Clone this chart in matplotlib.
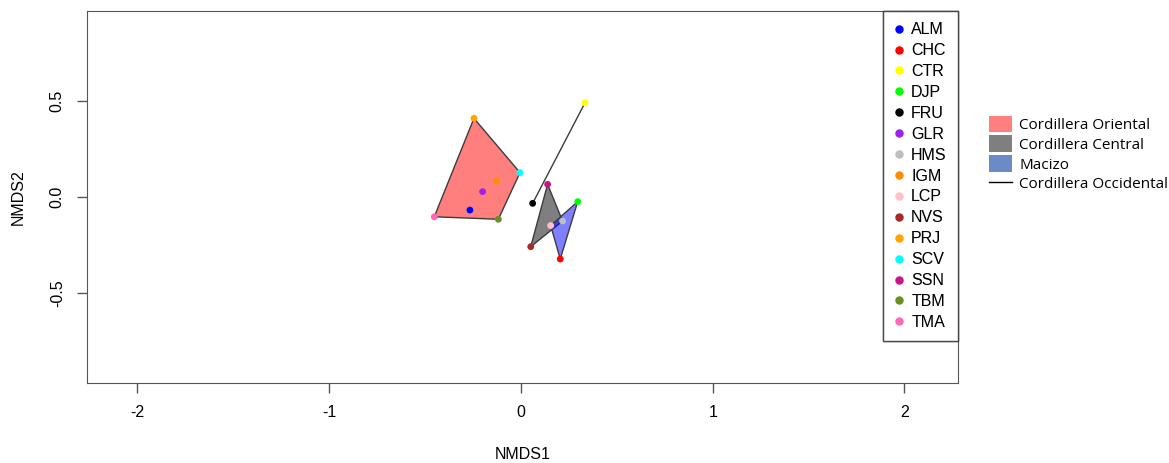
import matplotlib.pyplot as plt
from matplotlib.patches import Polygon, Patch
from matplotlib.lines import Line2D

sites = ["ALM", "CHC", "CTR", "DJP", "FRU", "GLR", "HMS", "IGM",
         "LCP", "NVS", "PRJ", "SCV", "SSN", "TBM", "TMA"]
nmds1 = [-0.266, 0.205, 0.334, 0.296, 0.061, -0.200, 0.217, -0.127,
         0.155, 0.051, -0.245, -0.005, 0.139, -0.118, -0.452]
nmds2 = [-0.068, -0.323, 0.491, -0.024, -0.033, 0.028, -0.125, 0.083,
         -0.149, -0.259, 0.410, 0.127, 0.066, -0.116, -0.103]
site_colors = ["#0000FF", "#FF0000", "#FFFF00", "#00FF00", "#000000", "#A020F0",
               "#BEBEBE", "#FF8C00", "#FFC0CB", "#A52A2A", "#FFA500", "#00FFFF",
               "#C71585", "#6B8E23", "#FF69B4"]

# hull vertices for each region (site names, in drawing order)
oriental = ["PRJ", "SCV", "TBM", "TMA"]
central = ["SSN", "HMS", "NVS"]
macizo = ["DJP", "CHC", "LCP"]
occidental = ["FRU", "CTR"]

groups = ["Cordillera Oriental", "Cordillera Central", "Macizo", "Cordillera Occidental"]
group_fill = ["#FF0000", "#000000", "#0000FF"]
group_legend = ["#FF7F7F", "#7F7F7F", "#6A8BC4"]

xticks = [-2, -1, 0, 1, 2]
yticks = [-0.5, 0.0, 0.5]

plt.rcParams['font.family'] = ['Liberation Sans', 'DejaVu Sans']

fig = plt.figure(figsize=(11.69, 4.63), dpi=100)
ax = fig.add_axes([0.0744, 0.1728, 0.7451, 0.8034])

pos = {s: (x, y) for s, x, y in zip(sites, nmds1, nmds2)}

for names, col in zip([oriental, central, macizo], group_fill):
    pts = [pos[n] for n in names]
    ax.add_patch(Polygon(pts, closed=True, facecolor=col, alpha=0.5, edgecolor='none'))
    ax.add_patch(Polygon(pts, closed=True, facecolor='none', edgecolor='#3c3c3c', lw=1))

ax.plot([pos[n][0] for n in occidental], [pos[n][1] for n in occidental],
        color='#3c3c3c', lw=1)

ax.scatter(nmds1, nmds2, c=site_colors, s=24, zorder=5, edgecolors='none')

ax.set_xlim(-2.263, 2.279)
ax.set_ylim(-0.969, 0.969)
ax.set_xticks(xticks)
ax.set_xticklabels([str(t) for t in xticks])
ax.set_yticks(yticks)
ax.set_yticklabels(["%.1f" % t for t in yticks], rotation=90, va='center')
ax.tick_params(direction='out', length=7, width=1, color='#555555',
               labelsize=11.5, pad=9)
for sp in ax.spines.values():
    sp.set_color('#555555')
ax.set_xlabel("NMDS1", fontsize=11.5, labelpad=19)
ax.set_ylabel("NMDS2", fontsize=11.5, labelpad=17)

handles = [Line2D([], [], marker='o', ls='none', color=c, markersize=5)
           for c in site_colors]
leg = ax.legend(handles, sites, loc='upper right', bbox_to_anchor=(1.0, 1.0),
                fontsize=11.5, frameon=True, fancybox=False, edgecolor='#333333',
                borderaxespad=0, handlelength=0.6, handletextpad=0.45,
                labelspacing=0.37, borderpad=0.7)
leg.get_frame().set_linewidth(1)
ax.add_artist(leg)

handles2 = [Patch(facecolor=c, edgecolor='none') for c in group_legend]
handles2.append(Line2D([], [], color='black', lw=1))
fig.legend(handles2, groups, loc='upper left', bbox_to_anchor=(0.834, 0.78),
           frameon=False, prop={'family': 'Open Sans', 'size': 11},
           handlelength=1.5, handleheight=1.3, handletextpad=0.5,
           labelspacing=0.15)

fig.savefig("out.png", dpi=100)
